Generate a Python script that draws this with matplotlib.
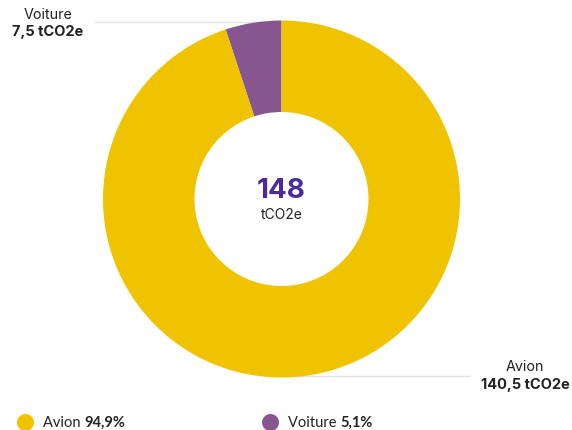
import matplotlib.pyplot as plt

labels = ["Voiture", "Avion"]
values = [7.5, 140.5]
colors = ["#87558F", "#F0C300"]
value_labels = ["7,5 tCO2e", "140,5 tCO2e"]
pct_labels = ["5,1%", "94,9%"]
total_label = "148"
unit = "tCO2e"

plt.rcParams['font.family'] = ['Inter', 'DejaVu Sans']

W, H = 572, 431
fig = plt.figure(figsize=(W / 100, H / 100), dpi=100)
ax = fig.add_axes([0, 0, 1, 1])

cx, cy = 281.5, H - 200
R, r = 178.5, 87
ax.pie(values, colors=colors, startangle=90, counterclock=True,
       center=(cx, cy), radius=R, wedgeprops=dict(width=R - r, linewidth=0),
       frame=True)
ax.set_xlim(0, W)
ax.set_ylim(0, H)
ax.axis("off")

# leader lines
ax.plot([95, cx], [H - 23, H - 23], color="#e3e3e3", lw=1, zorder=0)
ax.plot([cx, 470], [H - 377, H - 377], color="#e3e3e3", lw=1, zorder=0)

ax.text(48, H - 15, labels[0], ha="center", va="center", fontsize=10.3, color="#222222")
ax.text(48, H - 32, value_labels[0], ha="center", va="center", fontsize=10.5,
        fontweight="bold", color="#222222")
ax.text(525, H - 367, labels[1], ha="center", va="center", fontsize=10.3, color="#222222")
ax.text(525, H - 385, value_labels[1], ha="center", va="center", fontsize=10.5,
        fontweight="bold", color="#222222")

ax.text(cx, H - 191, total_label, ha="center", va="center", fontsize=20,
        fontweight="bold", color="#4B2A9B")
ax.text(cx, H - 215, unit, ha="center", va="center", fontsize=10, color="#222222")

# legend
for x0, lab, pct, c in [(25, labels[1], pct_labels[1], colors[1]),
                        (270, labels[0], pct_labels[0], colors[0])]:
    ax.scatter([x0], [H - 423], s=150, color=c, linewidths=0)
    t = ax.text(x0 + 18, H - 423, lab + " ", ha="left", va="center",
                fontsize=10.5, family="Lato", color="#222222")
    fig.canvas.draw()
    bb = t.get_window_extent()
    ax.text(bb.x1, H - 423, pct, ha="left", va="center", fontsize=10.5,
            family="Lato", fontweight="bold", color="#222222")

fig.savefig("out.png", dpi=100)
